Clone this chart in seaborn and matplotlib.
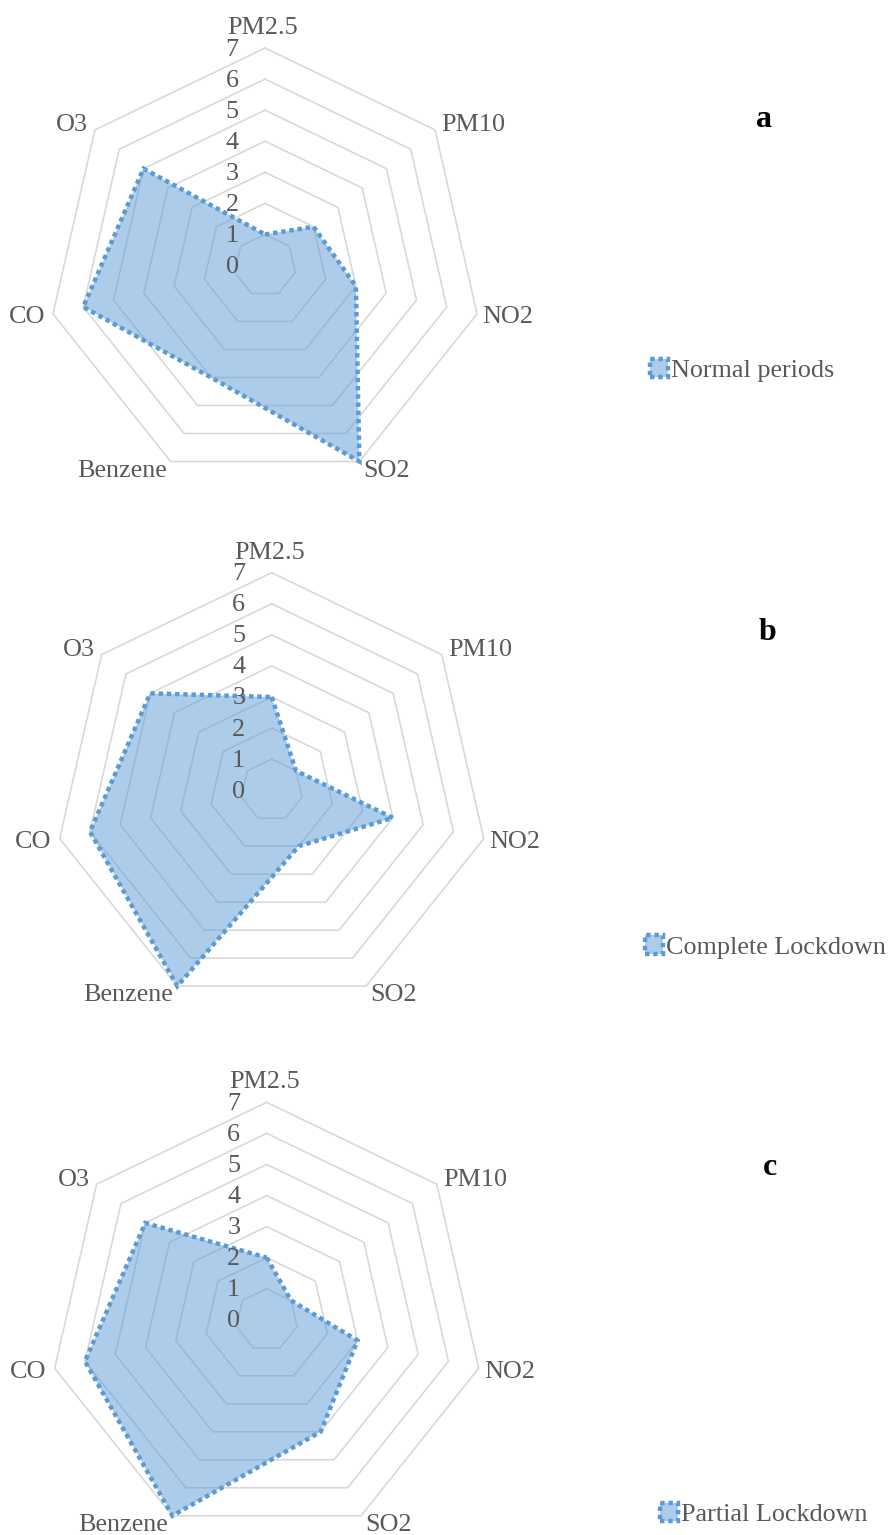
import numpy as np
import matplotlib
matplotlib.use("Agg")
import matplotlib.pyplot as plt
import seaborn as sns

# ---------------- data ----------------
categories = ["PM2.5", "PM10", "NO2", "SO2", "Benzene", "CO", "O3"]
normal_periods = [1, 2, 3, 7, 4, 6, 5]
complete_lockdown = [3, 1, 4, 2, 7, 6, 5]
partial_lockdown = [2, 1, 3, 4, 7, 6, 5]
series_names = ["Normal periods", "Complete Lockdown", "Partial Lockdown"]
panel_letters = ["a", "b", "c"]
ring_values = [1, 2, 3, 4, 5, 6, 7]
tick_values = [0, 1, 2, 3, 4, 5, 6, 7]
tick_labels = ["0", "1", "2", "3", "4", "5", "6", "7"]

# ---------------- style ----------------
sns.set_theme(style="white")
plt.rcParams["font.family"] = ["Liberation Serif", "DejaVu Serif"]

W, H, DPI = 888, 1535, 100
TEXT = "#595959"
RING = "#d9d9d9"
BLUE = "#5B9BD5"
FS = 18.8

fig = plt.figure(figsize=(W / DPI, H / DPI), dpi=DPI)
fig.patch.set_facecolor("white")

centers = [(265.0, 265.5), (271.7, 790.2), (266.7, 1319.8)]
R = 217.5
letter_pos = [(764, 127.3), (767.5, 640), (770, 1175)]
legend_pos = [(650, 370.5), (645, 947), (660, 1514.7)]

# label offsets (pixels) from outer vertex, and alignment
label_offsets = {
    "PM2.5": (-2, 14, "center"),
    "PM10": (6, -1.6, "left"),
    "NO2": (5, -9.4, "left"),
    "SO2": (4, -15.2, "left"),
    "Benzene": (-4, -15.2, "right"),
    "CO": (-8, -9.4, "right"),
    "O3": (-7, -1.6, "right"),
}

all_series = [normal_periods, complete_lockdown, partial_lockdown]
n = len(categories)
theta = np.linspace(0, 2 * np.pi, n, endpoint=False)
theta_c = np.concatenate([theta, theta[:1]])

for (cx, cy), vals, name, letter, (lx, ly), (gx, gy) in zip(
        centers, all_series, series_names, panel_letters, letter_pos, legend_pos):
    rect = [(cx - R) / W, (H - cy - R) / H, 2 * R / W, 2 * R / H]
    ax = fig.add_axes(rect, projection="polar")
    ax.set_theta_zero_location("N")
    ax.set_theta_direction(-1)
    ax.set_ylim(0, 7)
    ax.grid(False)
    ax.spines["polar"].set_visible(False)
    ax.set_xticks([])
    ax.set_yticks([])
    ax.patch.set_alpha(0)

    # heptagonal rings
    for r in ring_values:
        ax.plot(theta_c, [r] * (n + 1), color=RING, lw=1.2, zorder=1,
                clip_on=False, solid_joinstyle="miter")

    vals_c = list(vals) + [vals[0]]
    ax.fill(theta_c, vals_c, facecolor=(0.357, 0.608, 0.835, 0.5),
            edgecolor=BLUE, linestyle=(0, (1, 0.85)), linewidth=3.2,
            zorder=2, clip_on=False, label=name, joinstyle="miter")

    # radial tick labels
    for v, lab in zip(tick_values, tick_labels):
        ax.annotate(lab, xy=(0, v), xytext=(-33, -7.5),
                    textcoords="offset pixels", ha="center", va="baseline",
                    fontsize=FS, color=TEXT, zorder=5, annotation_clip=False)

    # category labels
    for th, cat in zip(theta, categories):
        dx, dy, ha = label_offsets[cat]
        ax.annotate(cat, xy=(th, 7), xytext=(dx, dy),
                    textcoords="offset pixels", ha=ha, va="baseline",
                    fontsize=FS, color=TEXT, annotation_clip=False)

    # panel letter
    fig.text(lx / W, 1 - ly / H, letter, ha="center", va="baseline",
             fontsize=23, fontweight="bold", color="black")

    # legend
    ax.legend(loc="center left", bbox_to_anchor=(gx / W, 1 - gy / H),
              bbox_transform=fig.transFigure, frameon=False, borderpad=0,
              borderaxespad=0, handlelength=0.7, handleheight=0.7,
              handletextpad=0.12, fontsize=FS, labelcolor=TEXT)

fig.savefig("out.png", dpi=DPI, facecolor="white")
